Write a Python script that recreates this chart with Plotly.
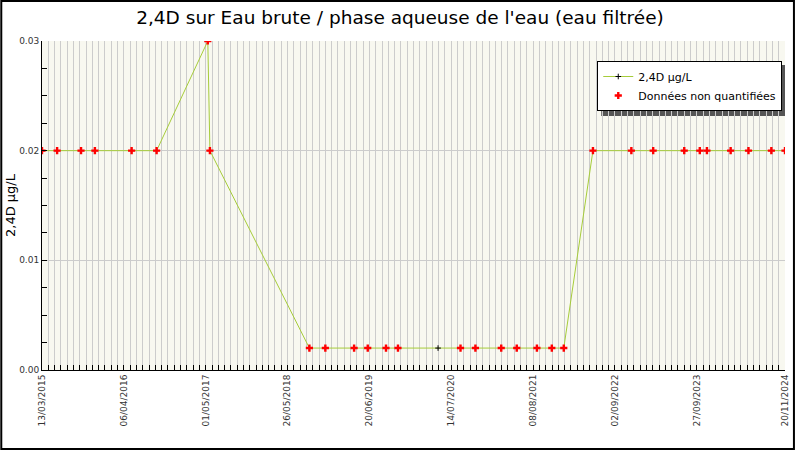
import plotly.graph_objects as go

# sample dates and measured values (µg/L)
dates = [
    "2015-03-13", "2015-05-24", "2015-09-15", "2015-11-20", "2016-05-13",
    "2016-09-09", "2017-05-11", "2017-05-21", "2018-09-07", "2018-11-22",
    "2019-04-08", "2019-06-12", "2019-09-07", "2019-11-03", "2020-05-12",
    "2020-08-27", "2020-11-06", "2021-03-09", "2021-05-22", "2021-08-26",
    "2021-11-05", "2022-01-01", "2022-05-20", "2022-11-19", "2023-03-03",
    "2023-07-29", "2023-10-11", "2023-11-14", "2024-03-06", "2024-05-30",
    "2024-09-16", "2024-11-20",
]
values = [
    0.02, 0.02, 0.02, 0.02, 0.02,
    0.02, 0.03, 0.02, 0.002, 0.002,
    0.002, 0.002, 0.002, 0.002, 0.002,
    0.002, 0.002, 0.002, 0.002, 0.002,
    0.002, 0.002, 0.02, 0.02, 0.02,
    0.02, 0.02, 0.02, 0.02, 0.02,
    0.02, 0.02,
]
# 1 = non quantified
non_quant = [
    1, 1, 1, 1, 1, 1, 1, 1, 1, 1,
    1, 1, 1, 1, 0, 1, 1, 1, 1, 1,
    1, 1, 1, 1, 1, 1, 1, 1, 1, 1,
    1, 1,
]

tick_dates = ["2015-03-13", "2016-04-06", "2017-05-01", "2018-05-26", "2019-06-20",
              "2020-07-14", "2021-08-08", "2022-09-02", "2023-09-27", "2024-11-20"]
tick_labels = ["13/03/2015", "06/04/2016", "01/05/2017", "26/05/2018", "20/06/2019",
               "14/07/2020", "08/08/2021", "02/09/2022", "27/09/2023", "20/11/2024"]

nq_x = [d for d, f in zip(dates, non_quant) if f]
nq_y = [v for v, f in zip(values, non_quant) if f]

W, H = 800, 450
ml, mr, mt, mb = 42, 10, 41, 80
pw, ph = W - ml - mr, H - mt - mb

fig = go.Figure()
fig.add_trace(go.Scatter(
    x=dates, y=values, mode="lines+markers", name="2,4D µg/L",
    line=dict(color="#a6cc3a", width=1),
    marker=dict(symbol="cross-thin", size=4, line=dict(color="black", width=1), color="black"),
))
fig.add_trace(go.Scatter(
    x=nq_x, y=nq_y, mode="markers", name="Données non quantifiées",
    marker=dict(symbol="cross", size=6, color="#ff0000"),
))

# legend shadow + outer frame
lx0, ly0, lx1, ly1 = 601, 61, 786, 112
fig.add_shape(type="rect", xref="paper", yref="paper", layer="below",
              x0=(lx0 + 4 - ml) / pw, x1=(lx1 + 4 - ml) / pw,
              y0=(H - mb - (ly1 + 4)) / ph, y1=(H - mb - (ly0 + 4)) / ph,
              fillcolor="#555555", line=dict(width=0))
fig.add_shape(type="rect", xref="paper", yref="paper",
              x0=(-ml + 1) / pw, x1=(W - ml - 1) / pw,
              y0=(-mb + 1) / ph, y1=(H - mb - 1) / ph,
              line=dict(color="black", width=2))

fig.update_layout(
    width=W, height=H,
    margin=dict(l=ml, r=mr, t=mt, b=mb),
    paper_bgcolor="white", plot_bgcolor="#f8f8f0",
    font=dict(family="DejaVu Sans", color="black"),
    title=dict(text="2,4D sur Eau brute / phase aqueuse de l'eau (eau filtrée)",
               x=0.5, xanchor="center", y=1 - 18 / H, yanchor="middle",
               font=dict(size=18.5, color="black")),
    showlegend=True,
    legend=dict(x=(lx0 - ml) / pw, y=(H - mb - ly0) / ph, xanchor="left", yanchor="top",
                bgcolor="white", bordercolor="black", borderwidth=1,
                font=dict(size=11), tracegroupgap=0, itemwidth=30),
    xaxis=dict(
        type="date", range=["2015-03-13", "2024-11-20"],
        tickvals=tick_dates, ticktext=tick_labels, tickangle=-90,
        tickfont=dict(size=9, color="#333333"),
        ticks="inside", ticklen=5, tickcolor="black",
        showline=True, linecolor="black", linewidth=1,
        showgrid=True, gridcolor="#cccccc", gridwidth=1, zeroline=False,
        minor=dict(dtick=30 * 86400000, tick0="2015-03-13", ticks="inside", ticklen=5,
                   tickcolor="black", showgrid=True, gridcolor="#cccccc", gridwidth=1),
    ),
    yaxis=dict(
        range=[0, 0.03], dtick=0.01, tickformat=".2f",
        tickfont=dict(size=9, color="#333333"),
        ticks="inside", ticklen=5, tickcolor="black",
        showline=True, linecolor="black", linewidth=1,
        showgrid=True, gridcolor="#cccccc", gridwidth=1, zeroline=False,
        minor=dict(dtick=0.0025, ticks="inside", ticklen=5, tickcolor="black", showgrid=False),
        title=dict(text="2,4D µg/L", font=dict(size=13), standoff=0),
        automargin=False,
    ),
)

# page body margin would shift the figure
fig.write_html(
    "out.html",
    config={"displayModeBar": False},
    post_script="document.documentElement.style.cssText='margin:0;padding:0;overflow:hidden';"
                "document.body.style.cssText='margin:0;padding:0;overflow:hidden';",
)
